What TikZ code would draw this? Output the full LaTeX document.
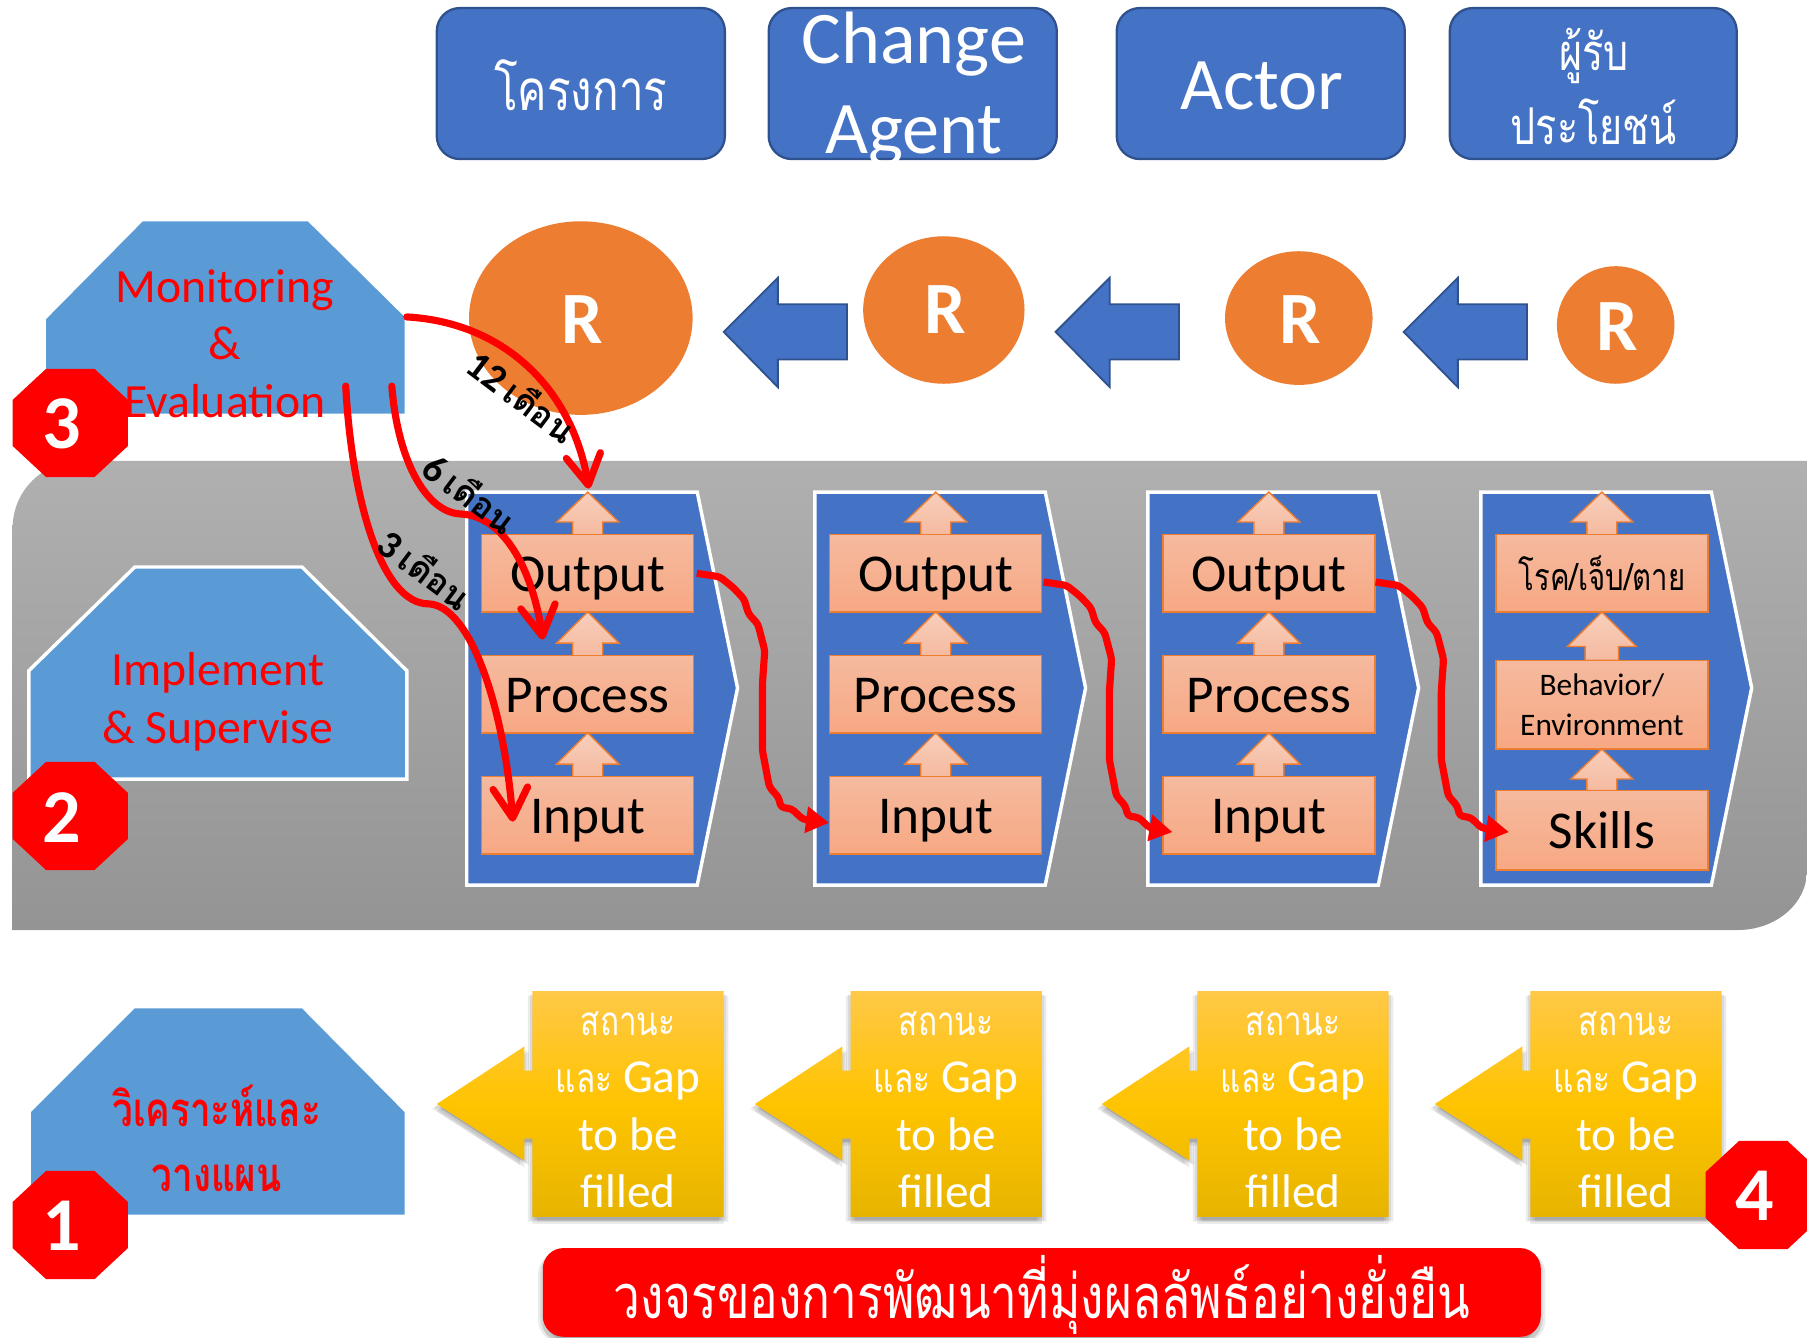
\documentclass[tikz,border=0pt]{standalone}
\usepackage{fontspec}
\setmainfont{Carlito}
\newfontfamily\thaifont[Script=Thai,FakeStretch=0.78]{Loma}
\newfontfamily\thaiwide[Script=Thai]{Loma}
\usetikzlibrary{calc,arrows.meta,shadows}
\definecolor{bluebox}{HTML}{4472C4}
\definecolor{blueedge}{HTML}{2F528F}
\definecolor{lightblue}{HTML}{5B9BD5}
\definecolor{orangeR}{HTML}{ED7D31}
\definecolor{salmonT}{HTML}{F5BA9F}
\definecolor{salmonB}{HTML}{F7A883}
\definecolor{yelT}{HTML}{FFC847}
\definecolor{yelM}{HTML}{FFC400}
\definecolor{yelB}{HTML}{E6B400}
\tikzset{
  fs/.style n args={2}{font=\fontsize{#1}{#2}\selectfont},
  txt/.style={inner sep=0pt,align=center},
  topbox/.style={draw=blueedge,line width=1pt,fill=bluebox,rounded corners=10pt},
  bluearrow/.style={draw=blueedge,line width=0.8pt,fill=bluebox},
  hexa/.style={fill=lightblue},
  hexaw/.style={fill=lightblue,draw=white,line width=1.5pt},
  plate/.style={fill=bluebox,draw=white,line width=1.5pt},
  ibox/.style={draw=orangeR,line width=0.6pt,top color=salmonT,bottom color=salmonB,inner sep=0pt,minimum width=92pt,align=center},
  uparrow/.style={draw=orangeR,line width=0.6pt,top color=salmonT!70!white,bottom color=salmonT},
  softshadow/.style={
    drop shadow={opacity=.08,shadow xshift=0pt,shadow yshift=-3pt,fill=black},
    drop shadow={opacity=.08,shadow xshift=2pt,shadow yshift=-2pt,fill=black},
    drop shadow={opacity=.08,shadow xshift=-2pt,shadow yshift=-2pt,fill=black},
    drop shadow={opacity=.08,shadow xshift=1pt,shadow yshift=-1.5pt,fill=black},
    drop shadow={opacity=.08,shadow xshift=-1pt,shadow yshift=-1.5pt,fill=black}},
  yel/.style={top color=yelT,bottom color=yelB,middle color=yelM,softshadow},
  octo/.style={fill=red},
  wire/.style={draw=red,line width=3.1pt,line join=round,rounded corners=1.5pt,-{Triangle[length=10pt,width=11pt]}},
  curv/.style={draw=red,line width=3.1pt,line cap=round,-{Straight Barb[length=13pt,width=15pt,round]}},
  lab/.style={inner sep=0pt,font=\fontsize{17}{19}\bfseries\selectfont,rotate=-37},
}
\newcommand{\labthai}[1]{\hspace{3pt}{\thaiwide\bfseries\fontsize{15}{19}\selectfont #1}}
\newcommand{\upar}[6]{\path[uparrow] (#1,#2) -- ({#1+#5},#3) -- ({#1+#6},#3) -- ({#1+#6},#4) -- ({#1-#6},#4) -- ({#1-#6},#3) -- ({#1-#5},#3) -- cycle;}
\newcommand{\larrow}[1]{\path[bluearrow] (#1,288) -- ({#1+47},241) -- ({#1+47},264) -- ({#1+107},264) -- ({#1+107},312) -- ({#1+47},312) -- ({#1+47},336) -- cycle;}
\newcommand{\octagon}[3]{\path[octo] ({#1-21},{#2-47}) -- ({#1+21},{#2-47}) -- ({#1+50},{#2-20}) -- ({#1+50},{#2+20}) -- ({#1+21},{#2+47}) -- ({#1-21},{#2+47}) -- ({#1-50},{#2+20}) -- ({#1-50},{#2-20}) -- cycle;
  \node[txt,text=white,font=\fontsize{33}{36}\bfseries\selectfont] (num#3) at ({#1-7},{#2+1}) {#3};}
\newcommand{\plateshape}[1]{\path[plate] (#1,427) -- ({#1+200},427) -- ({#1+235},597) -- ({#1+200},768) -- (#1,768) -- cycle;}
\newcommand{\yellow}[2]{\path[yel] (#1,860) -- ({#1+166},860) -- ({#1+166},1056) -- (#1,1056) -- (#1,988) -- ({#1-7},988) -- ({#1-7},1007) -- ({#1-83},958) -- ({#1-7},908) -- ({#1-7},929) -- (#1,929) -- cycle;
  \node[txt,text=white,fs={20.5}{25}] (gap#2) at ({#1+83},963) {{\thaifont\fontsize{17.5}{25}\selectfont สถานะ}\\{\thaifont\fontsize{17.5}{25}\selectfont และ} Gap\\to be\\filled};}
\newcommand{\wirepath}[6]{\draw[wire] ($(#1.east)+(#3,#4)$) -- ++(20,3) -- ++(11.6,9.3) -- ++(9.4,10) -- ++(4,13) -- ++(8,8.6) -- ++(6,23) -- ++(-2,29) -- ++(0,58) -- ++(6,31.5) -- ++(8,9) -- ++(2,8.6) -- ++(9.5,1.4) -- ++(9.5,9) -- ($(#2.west)+(#5,#6)$);}
\begin{document}
\begin{tikzpicture}[x=0.5pt,y=-0.5pt]
\useasboundingbox (0,0) rectangle (1568,1161);
\clip (0,0) rectangle (1568,1161);
% top row
\path[topbox] (379,7) rectangle (629,138);
\path[topbox] (667,7) rectangle (917,138);
\path[topbox] (969,7) rectangle (1219,138);
\path[topbox] (1258,7) rectangle (1507,138);
\node[txt,text=white,font=\thaifont\fontsize{24.5}{30}\selectfont] (t1) at (504,74) {โครงการ};
\node[txt,text=white,fs={32.2}{39}] (t2) at (793,77) {Change\\Agent};
\node[txt,text=white,fs={32.2}{39}] (t3) at (1095,75) {Actor};
\node[txt,text=white,font=\thaifont\fontsize{22}{32}\selectfont] (t4) at (1383,75) {ผู้รับ\\ประโยชน์};
% band
\path[top color=black!31,bottom color=black!42] (11,807) -- (11,458) .. controls (11,426) and (37,400) .. (70,400) -- (1568,400) -- (1568,755) .. controls (1568,785) and (1540,807) .. (1508,807) -- cycle;
% left hexagons
\path[hexa] (40,277) -- (124,192) -- (267,192) -- (351,275) -- (351,359) -- (40,359) -- cycle;
\path[hexaw] (25,582) -- (117,492) -- (262,492) -- (353,582) -- (353,676) -- (25,676) -- cycle;
\path[hexa] (27,965) -- (117,875) -- (262,875) -- (351,965) -- (351,1054) -- (27,1054) -- cycle;
% R circles
\path[fill=orangeR] (504,276) ellipse [x radius=97,y radius=84];
\path[fill=orangeR] (819,269) ellipse [x radius=70,y radius=64];
\path[fill=orangeR] (1127,276) ellipse [x radius=64,y radius=58];
\path[fill=orangeR] (1402,282) ellipse [x radius=51,y radius=51];
\node[txt,text=white,font=\fontsize{32}{34}\bfseries\selectfont] (r1) at (505,277) {R};
\node[txt,text=white,font=\fontsize{32}{34}\bfseries\selectfont] (r2) at (820,269) {R};
\node[txt,text=white,font=\fontsize{32}{34}\bfseries\selectfont] (r3) at (1128,277) {R};
\node[txt,text=white,font=\fontsize{32}{34}\bfseries\selectfont] (r4) at (1403,283) {R};
\larrow{628}\larrow{916}\larrow{1218}
% plates
\plateshape{405}\plateshape{707}\plateshape{996}\plateshape{1285}
\foreach \c in {510,812,1101}{
  \upar{\c}{427}{453}{464}{27}{13}
  \upar{\c}{531}{558}{569}{27}{13}
  \upar{\c}{636}{663}{674}{27}{13}
}
\upar{1390}{427}{453}{464}{27}{13}
\upar{1390}{531}{561}{573}{30}{14.5}
\upar{1390}{650}{676}{686}{27}{13}
\tikzset{row/.style={ibox,minimum height=33.5pt,fs={23.1}{26},text height=16pt,text depth=0pt}}
\node[row] (o1) at (510,497.5) {Output};
\node[row,text height=15.5pt] (p1) at (510,602.5) {Process};
\node[row,text height=15.5pt] (i1) at (510,707.5) {Input};
\node[row] (o2) at (812,497.5) {Output};
\node[row,text height=15.5pt] (p2) at (812,602.5) {Process};
\node[row,text height=15.5pt] (i2) at (812,707.5) {Input};
\node[row] (o3) at (1101,497.5) {Output};
\node[row,text height=15.5pt] (p3) at (1101,602.5) {Process};
\node[row,text height=15.5pt] (i3) at (1101,707.5) {Input};
\node[ibox,minimum height=33.5pt,font=\thaifont\fontsize{16.3}{19}\selectfont] (o4) at (1390,497.5) {โรค/เจ็บ/ตาย};
\node[ibox,minimum height=38.5pt,fs={13.6}{17}] (p4) at (1390,611.5) {Behavior/\\Environment};
\node[ibox,minimum height=34.5pt,fs={23.1}{26},text height=16pt,text depth=0pt] (i4) at (1390,720.5) {Skills};
% hexagon text
\node[txt,text=red,fs={20.7}{25}] (mon) at (195,298) {Monitoring\\\&\\Evaluation};
\node[txt,text=red,fs={20.7}{25}] (imp) at (189,609) {Implement\\\& Supervise};
\node[txt,text=red,font=\thaifont\bfseries\fontsize{20.5}{28}\selectfont] (ana) at (188,988) {วิเคราะห์และ\\วางแผน};
% yellow
\yellow{462}{a}\yellow{738}{b}\yellow{1039}{c}\yellow{1328}{d}
% banner
\path[fill=red,rounded corners=9pt,softshadow] (471,1083) rectangle (1337,1160);
\node[txt,text=white,font=\thaifont\fontsize{26.6}{30}\selectfont] (ban) at (904,1124) {วงจรของการพัฒนาที่มุ่งผลลัพธ์อย่างยั่งยืน};
% curves
\coordinate (c12) at (353,275);
\coordinate (c6) at (340,335);
\coordinate (c3) at (300,335);
\draw[curv] (c12) .. controls (440,280) and (497,340) .. (511,424);
\draw[curv] (c6) .. controls (345,400) and (370,445) .. (400,446) .. controls (440,448) and (463,500) .. (471,555);
\draw[curv] (c3) .. controls (305,430) and (330,524) .. (372,524) .. controls (410,526) and (438,620) .. (445,713);
\wirepath{o1}{i2}{2}{0}{0}{6.5}{}
\wirepath{o2}{i3}{1}{7.5}{9}{14.5}{}
\wirepath{o3}{i4}{0}{7.5}{12}{1.5}{}
% month labels
\node[lab] (m12) at (453,344) {12\labthai{เดือน}};
\node[lab] (m6) at (408,428) {6\labthai{เดือน}};
\node[lab] (m3) at (369,494) {3\labthai{เดือน}};
% octagons
\octagon{61}{367}{3}
\octagon{61}{708}{2}
\octagon{61}{1063}{1}
\octagon{1530}{1037}{4}
\end{tikzpicture}
\end{document}
